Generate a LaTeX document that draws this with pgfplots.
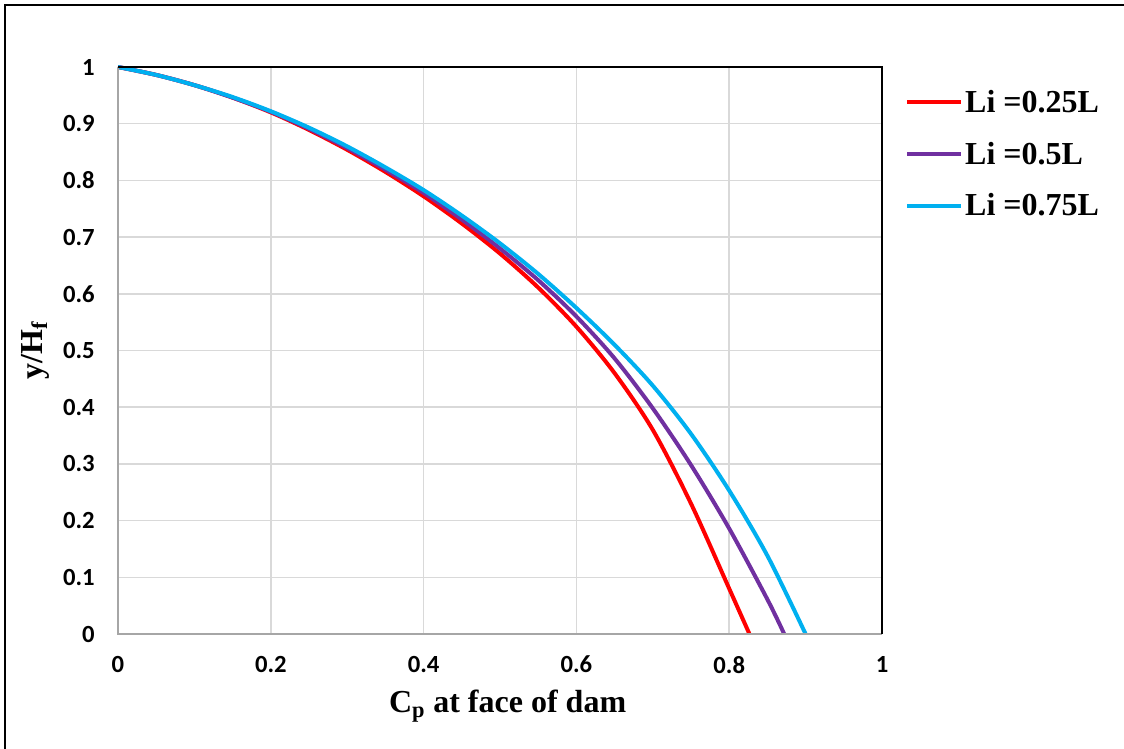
\documentclass[border=0pt]{standalone}
\usepackage{fontspec}
\setmainfont{Liberation Serif}
\newfontfamily\calibri{Carlito}
\usepackage{pgfplots}
\pgfplotsset{compat=1.18}

\definecolor{cRed}{HTML}{FF0000}
\definecolor{cPurple}{HTML}{7030A0}
\definecolor{cCyan}{HTML}{00B0F0}
\definecolor{gridgray}{HTML}{D9D9D9}
\definecolor{axgray}{HTML}{A6A6A6}

\begin{document}
\begin{tikzpicture}
\begin{axis}[
    scale only axis,
    width  = 573pt,
    height = 425.25pt,
    xmin=0, xmax=1,
    ymin=0, ymax=1,
    xtick = {0,0.2,0.4,0.6,0.8,1},
    ytick = {0,0.1,0.2,0.3,0.4,0.5,0.6,0.7,0.8,0.9,1},
    major tick length = 0pt,
    grid = major,
    grid style = {gridgray, line width=1.2pt},
    axis line style = {draw=none},
    clip = false,
    /pgf/number format/assume math mode=true,
    tick label style = {font=\calibri\bfseries\fontsize{18.5}{20}\selectfont},
    xticklabel style = {yshift=-13pt},
    yticklabel style = {xshift=-14pt},
    xlabel = {C\textsubscript{p} at face of dam},
    ylabel = {y/H\textsubscript{f}},
    label style = {font=\bfseries\fontsize{24}{28}\selectfont},
    xlabel style = {at={(rel axis cs:0.51,-0.127)}, anchor=center},
    ylabel style = {at={(rel axis cs:-0.1086,0.5)}, anchor=center, rotate=0},
    legend style = {draw=none, fill=none,
        font=\bfseries\fontsize{24}{28}\selectfont,
        at={(rel axis cs:1.030,0.964)}, anchor=north west,
        row sep=16.5pt, inner sep=0pt},
    legend cell align = left,
    legend image code/.code={\draw[#1] (0pt,0pt) -- (40pt,0pt);},
]

% Li = 0.25L
\addplot[cRed, line width=3pt, smooth] coordinates {
    (0,1)(0.05,0.986)(0.1,0.968)(0.15,0.946)(0.2,0.920)(0.25,0.889)
    (0.3,0.854)(0.35,0.815)(0.4,0.772)(0.45,0.724)(0.5,0.671)
    (0.55,0.611)(0.6,0.542)(0.65,0.460)(0.7,0.360)(0.75,0.230)
    (0.8,0.080)(0.8265,0)
};
\addlegendentry{Li =0.25L}

% Li = 0.5L
\addplot[cPurple, line width=3pt, smooth] coordinates {
    (0,1)(0.05,0.986)(0.1,0.968)(0.15,0.946)(0.2,0.921)(0.25,0.891)
    (0.3,0.857)(0.35,0.819)(0.4,0.778)(0.45,0.731)(0.5,0.680)
    (0.55,0.624)(0.6,0.560)(0.65,0.486)(0.7,0.398)(0.75,0.298)
    (0.8,0.186)(0.85,0.061)(0.872,0)
};
\addlegendentry{Li =0.5L}

% Li = 0.75L
\addplot[cCyan, line width=3pt, smooth] coordinates {
    (0,1)(0.05,0.986)(0.1,0.968)(0.15,0.947)(0.2,0.922)(0.25,0.893)
    (0.3,0.860)(0.35,0.823)(0.4,0.783)(0.45,0.738)(0.5,0.689)
    (0.55,0.635)(0.6,0.575)(0.65,0.510)(0.7,0.438)(0.75,0.353)
    (0.8,0.253)(0.85,0.138)(0.9,0)
};
\addlegendentry{Li =0.75L}

\draw[axgray, line width=1.2pt] (rel axis cs:0,1) -- (rel axis cs:0,0) -- (rel axis cs:1,0);
\draw[black, line width=1.2pt] (rel axis cs:0,1) -- (rel axis cs:1,1) -- (rel axis cs:1,0);

\coordinate (bl) at (rel axis cs:-0.15445,-0.20282);
\coordinate (tr) at (rel axis cs:1.31675,1.11817);
\coordinate (fl) at (rel axis cs:-0.1479,-0.20282);
\coordinate (ftl) at (rel axis cs:-0.1479,1.1093);
\coordinate (ftr) at (rel axis cs:1.31675,1.1093);
\end{axis}
\pgfresetboundingbox
\path[use as bounding box] (bl) rectangle (tr);
\draw[black, line width=1.5pt] (fl) -- (ftl) -- (ftr);
\end{tikzpicture}
\end{document}
